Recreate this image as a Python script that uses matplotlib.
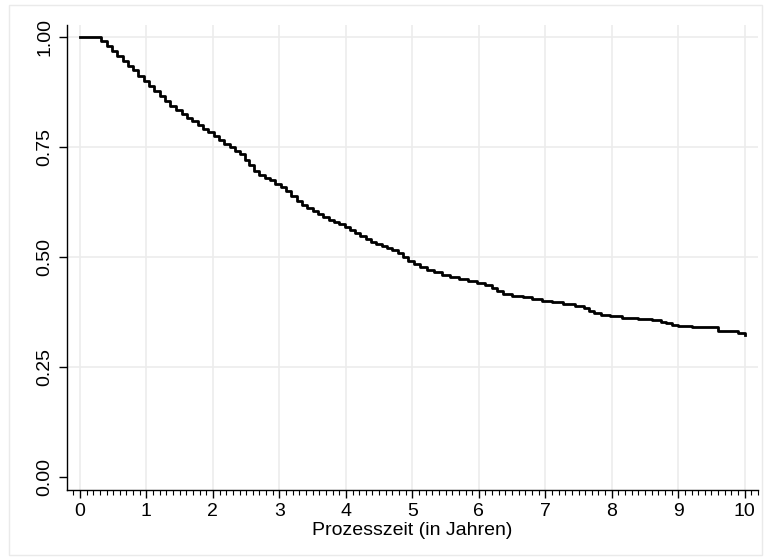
import numpy as np
import matplotlib.pyplot as plt
from matplotlib.patches import Rectangle
from matplotlib.ticker import MultipleLocator

plt.rcParams['font.family'] = ['Liberation Sans', 'DejaVu Sans']

# Kaplan-Meier step points (time in years, survival)
times = [0.31, 0.40, 0.48, 0.56, 0.64, 0.72, 0.80, 0.88, 0.96, 1.04, 1.12, 1.20, 1.28, 1.36, 1.45,
         1.53, 1.61, 1.69, 1.77, 1.85, 1.93, 2.01, 2.09, 2.17, 2.25, 2.33, 2.41, 2.49, 2.55, 2.62,
         2.70, 2.78, 2.86, 2.94, 3.02, 3.10, 3.18, 3.26, 3.34, 3.42, 3.50, 3.58, 3.66, 3.74, 3.82,
         3.90, 3.98, 4.06, 4.14, 4.22, 4.30, 4.38, 4.46, 4.54, 4.62, 4.70, 4.78, 4.86, 4.94, 5.02,
         5.12, 5.22, 5.33, 5.44, 5.56, 5.70, 5.84, 5.98, 6.10, 6.20, 6.28, 6.36, 6.50, 6.66, 6.80,
         6.95, 7.10, 7.26, 7.45, 7.58, 7.66, 7.74, 7.84, 7.98, 8.16, 8.40, 8.60, 8.74, 8.82, 8.90,
         9.00, 9.20, 9.60, 9.90, 10.0]
surv = [0.990, 0.979, 0.968, 0.957, 0.946, 0.935, 0.924, 0.912, 0.900, 0.889, 0.877, 0.866, 0.855, 0.844, 0.834,
        0.826, 0.817, 0.808, 0.800, 0.792, 0.783, 0.774, 0.765, 0.757, 0.749, 0.742, 0.733, 0.720, 0.708, 0.695,
        0.686, 0.680, 0.674, 0.667, 0.659, 0.650, 0.638, 0.627, 0.618, 0.611, 0.604, 0.597, 0.590, 0.584, 0.579,
        0.574, 0.568, 0.562, 0.555, 0.548, 0.541, 0.535, 0.530, 0.525, 0.520, 0.515, 0.509, 0.501, 0.492, 0.484,
        0.477, 0.471, 0.465, 0.459, 0.454, 0.449, 0.445, 0.441, 0.436, 0.430, 0.422, 0.416, 0.412, 0.408, 0.404,
        0.400, 0.397, 0.393, 0.389, 0.384, 0.378, 0.372, 0.368, 0.365, 0.362, 0.360, 0.357, 0.353, 0.349, 0.345,
        0.343, 0.341, 0.331, 0.328, 0.323]

xticks = list(range(0, 11))
yticks = [0.0, 0.25, 0.5, 0.75, 1.0]
ylabels = ["0.00", "0.25", "0.50", "0.75", "1.00"]

fig = plt.figure(figsize=(7.66, 5.58), dpi=100)
fig.patches.append(Rectangle((9/766, 3/558), 753/766, 550/558, transform=fig.transFigure,
                             fill=False, edgecolor='#eaeaea', linewidth=1))
ax = fig.add_axes([67/766, 1-490/558, 691/766, 465/558])

t = [0.0] + times
s = [1.0] + surv
ax.step(t, s, where='post', color='black', linewidth=2.0, zorder=3)

ax.set_xlim(-0.195, 10.2)
ax.set_ylim(-0.0296, 1.0273)

for v in xticks:
    ax.axvline(v, color='#ececec', linewidth=1.2, zorder=1)
for v in yticks[1:]:
    ax.axhline(v, color='#ececec', linewidth=1.2, zorder=1)

ax.set_xticks(xticks)
ax.xaxis.set_minor_locator(MultipleLocator(0.1))
ax.set_yticks(yticks)
ax.set_yticklabels(ylabels, rotation=90, va='center')

ax.tick_params(axis='both', which='major', length=6, width=1, labelsize=14, color='black')
ax.tick_params(axis='x', which='minor', length=3.5, width=0.8)
ax.tick_params(axis='x', which='major', pad=3)
ax.tick_params(axis='y', which='major', pad=4)

for side in ['top', 'right']:
    ax.spines[side].set_visible(False)
for side in ['left', 'bottom']:
    ax.spines[side].set_linewidth(1)

ax.set_xlabel("Prozesszeit (in Jahren)", fontsize=14, labelpad=2)

fig.savefig("out.png", dpi=100)
